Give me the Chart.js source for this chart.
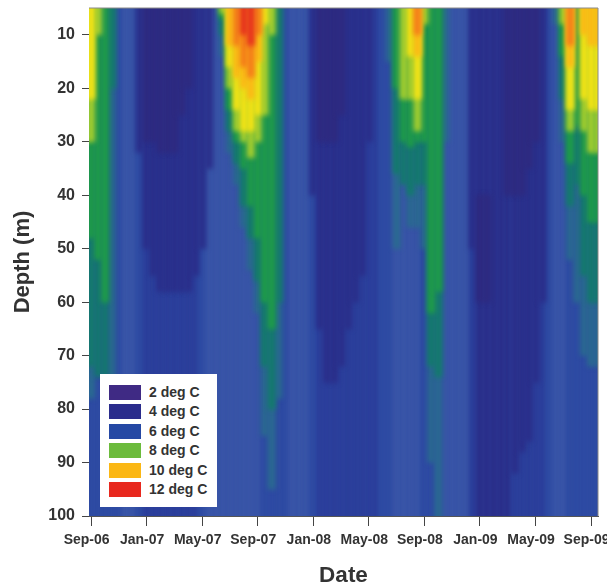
<!DOCTYPE html>
<html>
<head>
<meta charset="utf-8">
<script src="https://cdn.jsdelivr.net/npm/chart.js@4/dist/chart.umd.min.js"></script>
<style>
  body { margin: 0; background: #fff; }
  #wrap { position: relative; width: 607px; height: 585px; overflow: hidden; filter: blur(0.5px); }
  #key { position: absolute; left: 100px; top: 374px; width: 117px; height: 133px; background: #fff;
         font: bold 14px "Liberation Sans", Arial, sans-serif; color: #333; }
  #key div { position: absolute; left: 49px; line-height: 15px; white-space: nowrap; }
  #key span { position: absolute; left: -40px; top: 0; width: 32px; height: 15px; }
</style>
</head>
<body>
<div id="wrap">
  <canvas id="chart" width="607" height="585"></canvas>
  <div id="key"></div>
</div>
<script>
// one tick every 8 half months
var dateTicks = ['Sep-06', 'Jan-07', 'May-07', 'Sep-07', 'Jan-08', 'May-08', 'Sep-08', 'Jan-09', 'May-09', 'Sep-09']

var legendLabels = ['2 deg C', '4 deg C', '6 deg C', '8 deg C', '10 deg C', '12 deg C']
var legendColors = ['#3f2a84', '#2a2c8c', '#2548a4', '#6cbb3c', '#fbb714', '#e8281e']

// full depth temperature of each half month column (Sep-06 ... Sep-09)
var baseTemp = [
  6, 6, 6, 6, 6, 6.5, 6.5, 6, 5, 5, 5, 5, 5, 5, 5, 5, 6, 6.5, 6.5, 6.5,
  6.5, 6.5, 6.5, 6.5, 6.5, 6, 6, 6, 6, 6.5, 6.5, 6.5, 6, 5, 5, 5, 5, 5, 5, 5,
  5, 5, 6, 6, 6.5, 6.5, 6.5, 6.5, 6, 6, 6, 6.5, 6.5, 6.5, 6.5, 5, 4, 4, 4, 4,
  4, 5, 5, 5, 5, 5, 6, 6.5, 6.5, 6, 6, 6, 6, 6
]

// water bodies as [column, top depth, bottom depth], 0 being the surface
var cold4 = [
  [7, 0, 32], [8, 0, 50], [9, 0, 55], [10, 0, 58], [11, 0, 58], [12, 0, 58], [13, 0, 58], [14, 0, 58], [15, 0, 55], [16, 0, 50], [17, 0, 35],
  [32, 0, 40], [33, 0, 65], [34, 0, 75], [35, 0, 75], [36, 0, 72], [37, 0, 65], [38, 0, 60], [39, 0, 55], [40, 0, 30],
  [55, 0, 50], [61, 0, 92], [62, 0, 88], [63, 0, 86], [64, 0, 75], [65, 0, 60]
]
var purple3 = [
  [8, 0, 30], [9, 0, 30], [10, 0, 32], [11, 0, 32], [12, 0, 32], [13, 0, 25], [14, 0, 20],
  [33, 0, 30], [34, 0, 30], [35, 0, 30], [36, 0, 25],
  [56, 40, 60], [57, 40, 60], [60, 0, 40], [61, 0, 40], [62, 0, 40], [63, 0, 35], [64, 0, 30]
]
var tealBlue = [
  [-1, 0, 78], [0, 0, 78], [3, 0, 75],
  [19, 0, 14], [20, 0, 32], [21, 0, 38], [22, 0, 46], [23, 0, 54], [24, 0, 62], [25, 0, 85], [26, 0, 95], [27, 0, 78],
  [43, 0, 15], [44, 0, 50], [46, 0, 46], [47, 0, 46], [48, 0, 50], [49, 0, 90], [50, 0, 110], [51, 0, 30],
  [67, 0, 8], [68, 0, 30], [69, 0, 52], [70, 0, 60], [71, 0, 70], [72, 0, 72], [73, 0, 72], [74, 0, 72]
]
var teal7 = [
  [-1, 0, 72], [0, 0, 72], [1, 0, 74], [2, 0, 74], [3, 0, 20],
  [19, 0, 10], [20, 0, 28], [21, 0, 34], [22, 0, 42], [23, 0, 48], [24, 0, 56], [25, 0, 72], [26, 0, 80], [27, 0, 60],
  [44, 0, 36], [45, 0, 38], [46, 0, 40], [47, 0, 38], [48, 0, 38], [49, 0, 72], [50, 0, 74],
  [68, 0, 22], [69, 0, 42], [70, 0, 38], [71, 0, 55], [72, 0, 60], [73, 0, 60], [74, 0, 60]
]
var green8 = [
  [-1, 0, 48], [0, 0, 48], [1, 0, 52], [2, 0, 60],
  [19, 0, 7], [20, 0, 24], [21, 0, 30], [22, 0, 35], [23, 0, 42], [24, 0, 48], [25, 0, 60], [26, 0, 65],
  [44, 0, 20], [45, 0, 30], [46, 0, 31], [47, 0, 30], [48, 0, 30], [49, 0, 62], [50, 0, 58],
  [68, 0, 14], [69, 0, 34], [70, 0, 27], [71, 0, 40], [72, 0, 45], [73, 0, 45], [74, 0, 45]
]
var lightGreen = [
  [-1, 0, 30], [0, 0, 30], [1, 0, 10],
  [19, 0, 6], [20, 0, 20], [21, 0, 28], [22, 0, 30], [23, 0, 33], [24, 0, 30], [25, 0, 25], [26, 0, 10],
  [45, 0, 22], [46, 0, 22], [47, 0, 28], [48, 0, 8],
  [68, 0, 8], [69, 0, 28], [71, 0, 28], [72, 0, 32], [73, 0, 32], [74, 0, 32]
]
var yellow9 = [
  [-1, 0, 22], [0, 0, 22],
  [20, 0, 16], [21, 0, 24], [22, 0, 28], [23, 0, 28], [24, 0, 25], [25, 0, 8],
  [46, 0, 14], [47, 0, 22],
  [69, 0, 24], [71, 0, 22], [72, 0, 24], [73, 0, 24], [74, 0, 24]
]
var amber10 = [
  [20, 0, 12], [21, 0, 18], [22, 0, 20], [23, 0, 22], [24, 0, 15],
  [47, 0, 14],
  [69, 0, 16], [71, 0, 10], [72, 0, 12], [73, 0, 12], [74, 0, 12]
]
var orange11 = [
  [21, 0, 12], [22, 0, 16], [23, 0, 18], [24, 0, 10],
  [47, 0, 10],
  [69, 0, 12]
]
var red12 = [
  [22, 0, 10], [23, 0, 12]
]

var baseColors = { 4: '#2a2c88', 5: '#2b3d9a', 6: '#2e4ba3', 6.5: '#3a56a8' }

// painted back to front
var layers = [
  { name: '4 deg C', rows: cold4, color: '#2a2e8a' },
  { name: '3 deg C', rows: purple3, color: '#2e2a80' },
  { name: '6.5 deg C', rows: tealBlue, color: '#2a6a90' },
  { name: '7 deg C', rows: teal7, color: '#137a6c' },
  { name: '8 deg C', rows: green8, color: '#1f9c48' },
  { name: '8.5 deg C', rows: lightGreen, color: '#a8cf2e' },
  { name: '9 deg C', rows: yellow9, color: '#f6e415' },
  { name: '10 deg C', rows: amber10, color: '#fbb816' },
  { name: '11 deg C', rows: orange11, color: '#f47c1a' },
  { name: '12 deg C', rows: red12, color: '#e6321e' }
]

var datasets = [{
  label: 'base',
  order: layers.length + 1,
  data: baseTemp.map(function (t, i) { return { x: i, y: [0, 110] } }),
  backgroundColor: baseTemp.map(function (t) { return baseColors[t] })
}]

layers.forEach(function (layer, n) {
  datasets.push({
    label: layer.name,
    order: layers.length - n,
    data: layer.rows.map(function (r) { return { x: r[0], y: [r[1], r[2]] } }),
    backgroundColor: layer.color
  })
})

// soft edges between the bands, plus the thin frame on top and right
var frame = {
  id: 'frame',
  beforeDatasetsDraw: function (chart) {
    var a = chart.chartArea
    chart.ctx.save()
    chart.ctx.fillStyle = baseColors[6]
    chart.ctx.fillRect(a.left, a.top, a.width, a.height)
    chart.ctx.filter = 'blur(2.5px)'
  },
  afterDatasetsDraw: function (chart) {
    chart.ctx.restore()
  },
  afterDraw: function (chart) {
    var a = chart.chartArea
    var ctx = chart.ctx
    ctx.save()
    ctx.strokeStyle = '#8a8a8a'
    ctx.lineWidth = 1
    ctx.beginPath()
    ctx.moveTo(a.left, a.top)
    ctx.lineTo(a.right, a.top)
    ctx.lineTo(a.right, a.bottom)
    ctx.stroke()
    ctx.restore()
  }
}

new Chart(document.getElementById('chart').getContext('2d'), {
  type: 'bar',
  data: { datasets: datasets },
  plugins: [frame],
  options: {
    responsive: false,
    animation: false,
    layout: { padding: { top: 8, right: 9, left: 0, bottom: 0 } },
    datasets: { bar: { barPercentage: 1, categoryPercentage: 1, grouped: false, borderWidth: 0 } },
    plugins: { legend: { display: false }, tooltip: { enabled: false } },
    scales: {
      x: {
        type: 'linear',
        min: -0.3,
        max: 73,
        offset: false,
        afterFit: function (scale) {
          scale.height = 69
          scale.paddingLeft = 0
          scale.paddingRight = 0
        },
        grid: { display: true, offset: false, drawOnChartArea: false, drawTicks: true, tickLength: 10, color: '#444' },
        border: { color: '#555', width: 1 },
        ticks: {
          stepSize: 8,
          includeBounds: false,
          autoSkip: false,
          maxRotation: 0,
          padding: 6,
          labelOffset: -4.5,
          color: '#333',
          font: { family: '"Liberation Sans", Arial, sans-serif', size: 14, weight: 'bold' },
          callback: function (v) { return dateTicks[v / 8] }
        },
        title: {
          display: true,
          text: 'Date',
          color: '#333',
          padding: { top: 9, bottom: -4.5 },
          font: { family: '"Liberation Sans", Arial, sans-serif', size: 22.5, weight: 'bold' }
        }
      },
      y: {
        min: 5,
        max: 100,
        reverse: true,
        afterFit: function (scale) {
          scale.width = 89
          scale.paddingTop = 0
          scale.paddingBottom = 0
        },
        grid: { display: true, drawOnChartArea: false, drawTicks: true, tickLength: 7, color: '#444' },
        border: { color: '#555', width: 1 },
        ticks: {
          stepSize: 10,
          includeBounds: false,
          padding: 7,
          color: '#333',
          font: { family: '"Liberation Sans", Arial, sans-serif', size: 16, weight: 'bold' }
        },
        title: {
          display: true,
          text: 'Depth (m)',
          color: '#333',
          padding: { top: 10, bottom: 6 },
          font: { family: '"Liberation Sans", Arial, sans-serif', size: 22, weight: 'bold' }
        }
      }
    }
  }
})

var key = document.getElementById('key')
legendLabels.forEach(function (label, i) {
  var row = document.createElement('div')
  row.style.top = (11 + i * 19.4) + 'px'
  row.textContent = label
  var box = document.createElement('span')
  box.style.background = legendColors[i]
  row.appendChild(box)
  key.appendChild(row)
})
</script>
</body>
</html>
